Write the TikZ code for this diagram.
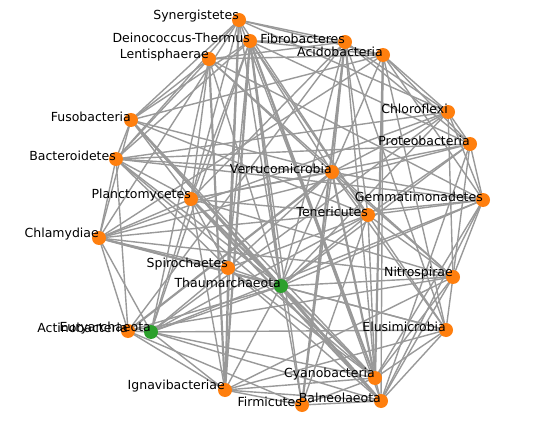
\documentclass[tikz,border=0pt]{standalone}
\usepackage{fontspec}
\setmainfont{DejaVu Sans}
\definecolor{edgegray}{RGB}{153,153,153}
\definecolor{taxorange}{RGB}{255,127,14}
\definecolor{taxgreen}{RGB}{44,160,44}

\begin{document}
\begin{tikzpicture}[
    x=1pt, y=-1pt,
    edge/.style={draw=edgegray, line width=1.4pt},
    heavy/.style={draw=edgegray, line width=2.2pt},
    taxon/.style={
        circle,
        fill=taxorange,
        inner sep=0pt,
        minimum size=14pt
    },
    archaeon/.style={taxon, fill=taxgreen},
    tag/.style={anchor=east, inner sep=0pt, font=\fontsize{12.5}{15}\selectfont, text=black}
]
    \useasboundingbox (0,0) rectangle (541,433);

    % node positions
    \foreach \n/\x/\y in {syn/239/20, dei/250/41, fib/345/42, aci/383/55,
        len/209/59, fus/131/120, chl/448/112, pro/470/144, bac/116/159,
        ver/332/172, pla/191/199, gem/483/200, ten/368/215, cla/99/238,
        spi/228/268, tha/281/286, nit/453/277, act/128/331, eur/151/332,
        elu/446/330, ign/225/390, cya/375/378, fir/302/405, bal/381/401}
        \coordinate (\n) at (\x,\y);

    % co-occurrence links
    \foreach \a/\b in {syn/fib, syn/aci, syn/chl, syn/fus, syn/bac, syn/pla,
        syn/tha, syn/ten, syn/cla, syn/cya, syn/ign,
        dei/fib, dei/aci, dei/pro, dei/fus, dei/bac, dei/ver, dei/pla, dei/spi,
        dei/fir, dei/bal, dei/elu, dei/eur,
        fib/len, fib/chl, fib/pro, fib/ver, fib/pla, fib/ten, fib/tha, fib/cya,
        fib/elu, fib/act,
        aci/len, aci/chl, aci/pro, aci/fus, aci/ver, aci/gem, aci/cla, aci/bal, aci/elu,
        len/fus, len/bac, len/pla, len/ver, len/gem, len/tha, len/nit, len/eur,
        fus/bac, fus/pla, fus/ver, fus/cla, fus/ten, fus/cya, fus/bal,
        chl/pro, chl/ver, chl/gem, chl/nit, chl/cla, chl/tha, chl/eur, chl/bac,
        pro/gem, pro/ten, pro/nit, pro/pla, pro/cla, pro/tha, pro/bal, pro/bac,
        bac/ver, bac/pla, bac/cla, bac/spi, bac/gem, bac/tha, bac/act, bac/cya,
        ver/pla, ver/gem, ver/ten, ver/spi, ver/tha, ver/nit, ver/fir, ver/elu,
        pla/ten, pla/cla, pla/spi, pla/nit, pla/eur, pla/ign,
        gem/ten, gem/cla, gem/tha, gem/nit, gem/eur, gem/cya, gem/bal,
        ten/tha, ten/spi, ten/nit, ten/eur, ten/cya, ten/fir,
        cla/spi, cla/nit, cla/eur, cla/act, cla/elu,
        spi/tha, spi/eur, spi/ign, spi/cya, spi/bal,
        tha/nit, tha/eur, tha/act, tha/ign, tha/fir, tha/elu,
        nit/act, nit/elu, nit/cya, nit/bal, nit/ign,
        act/eur, act/ign, act/fir,
        eur/ign, eur/cya, eur/bal, eur/elu,
        elu/cya, elu/bal, elu/ign,
        ign/fir, ign/cya, ign/bal,
        cya/bal, cya/fir, fir/bal}
        \draw[edge] (\a) -- (\b);

    % stronger links
    \foreach \a/\b in {syn/spi, dei/tha, dei/ign, dei/cya, fib/fir, aci/cya,
        len/ign, fus/tha, pla/tha, pla/bal, ver/cya, ver/act, cla/tha,
        tha/cya, tha/bal}
        \draw[heavy] (\a) -- (\b);

    % phyla
    \foreach \n in {syn, dei, fib, aci, len, fus, chl, pro, bac, ver, pla, gem,
        ten, cla, spi, nit, act, elu, ign, cya, fir, bal}
        \node[taxon] (\n-dot) at (\n) {};
    \node[archaeon] (tha-dot) at (tha) {};
    \node[archaeon] (eur-dot) at (eur) {};

    % names
    \foreach \n/\t in {syn/Synergistetes, dei/Deinococcus-Thermus,
        fib/Fibrobacteres, aci/Acidobacteria, len/Lentisphaerae,
        fus/Fusobacteria, chl/Chloroflexi, pro/Proteobacteria,
        bac/Bacteroidetes, ver/Verrucomicrobia, pla/Planctomycetes,
        gem/Gemmatimonadetes, ten/Tenericutes, cla/Chlamydiae,
        spi/Spirochaetes, tha/Thaumarchaeota, nit/Nitrospirae,
        act/Actinobacteria, eur/Euryarchaeota, elu/Elusimicrobia,
        ign/Ignavibacteriae, cya/Cyanobacteria, fir/Firmicutes,
        bal/Balneolaeota}
        \node[tag] (\n-tag) at ([yshift=3.5pt]\n) {\t};
\end{tikzpicture}
\end{document}
